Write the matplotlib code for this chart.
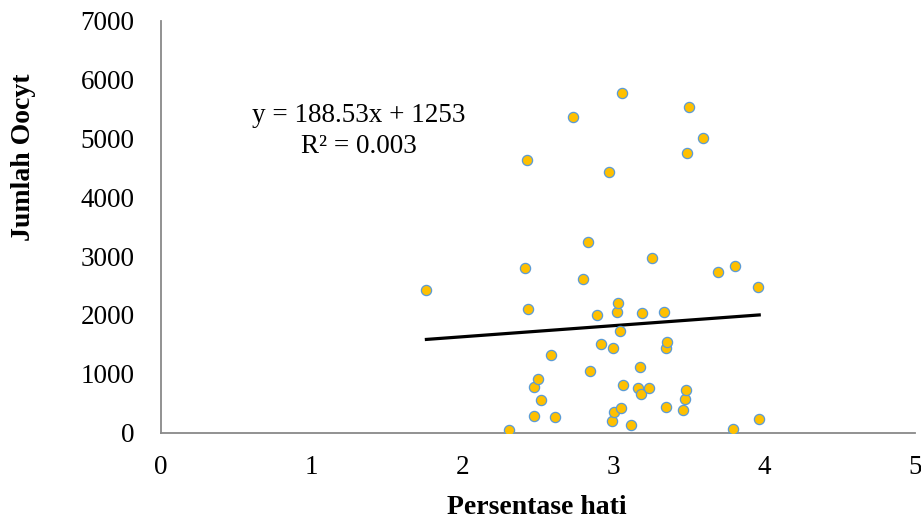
import numpy as np
import matplotlib
matplotlib.use("Agg")
import matplotlib.pyplot as plt

plt.rcParams['font.family'] = ['Liberation Serif', 'DejaVu Serif']

# persentase hati (x) vs jumlah oocyt (y)
persen_hati = [1.76, 2.305, 2.416, 2.425, 2.431, 2.471, 2.476, 2.50, 2.52, 2.584,
               2.615, 2.735, 2.80, 2.834, 2.848, 2.888, 2.919, 2.97, 2.992, 2.999,
               3.005, 3.025, 3.03, 3.045, 3.052, 3.058, 3.065, 3.114, 3.16, 3.174,
               3.183, 3.187, 3.233, 3.258, 3.338, 3.347, 3.349, 3.356, 3.462, 3.477,
               3.479, 3.49, 3.504, 3.597, 3.692, 3.792, 3.808, 3.956, 3.967]
jumlah_oocyt = [2433, 42, 2795, 4625, 2110, 280, 768, 914, 564, 1328,
                269, 5372, 2608, 3242, 1045, 2001, 1504, 4421, 207, 1447,
                348, 2059, 2205, 1727, 428, 5780, 802, 133, 761, 1118,
                654, 2030, 751, 2973, 2053, 1441, 438, 1543, 382, 581,
                722, 4754, 5530, 5003, 2727, 71, 2829, 2467, 229]

# trendline as printed on the chart
slope = 188.53
intercept = 1253
r2 = 0.003

x_ticks = [0, 1, 2, 3, 4, 5]
y_ticks = [0, 1000, 2000, 3000, 4000, 5000, 6000, 7000]

W, H = 921, 521
fig = plt.figure(figsize=(W / 100, H / 100), dpi=100)
ax = fig.add_axes([161 / W, (H - 432.7) / H, (915 - 161) / W, (432.7 - 20.7) / H])

ax.scatter(persen_hati, jumlah_oocyt, s=54, c='#FFC000', edgecolors='#5B9BD5',
           linewidths=0.9, zorder=3)

xs = np.array([min(persen_hati), max(persen_hati)])
ax.plot(xs, slope * xs + intercept, color='black', lw=2.3, zorder=2)

ax.set_xlim(0, 5)
ax.set_ylim(0, 7000)
ax.set_xticks(x_ticks)
ax.set_yticks(y_ticks)
ax.tick_params(axis='both', length=0, labelsize=19.5)
ax.tick_params(axis='x', pad=16)
ax.tick_params(axis='y', pad=19)

for s in ['top', 'right']:
    ax.spines[s].set_visible(False)
for s in ['left', 'bottom']:
    ax.spines[s].set_color('#898989')
    ax.spines[s].set_linewidth(1.3)

ax.text(1.31, 5390, f'y = {slope}x + {intercept}', ha='center', va='center', fontsize=19.5)
ax.text(1.31, 4870, f'R² = {r2}', ha='center', va='center', fontsize=19.5)

fig.text(537 / W, 1 - 507 / H, 'Persentase hati', ha='center', va='center',
         fontsize=20, fontweight='bold')
fig.text(24 / W, 1 - 157 / H, 'Jumlah Oocyt', ha='center', va='center',
         rotation=90, fontsize=20, fontweight='bold')

fig.savefig('out.png', dpi=100)
